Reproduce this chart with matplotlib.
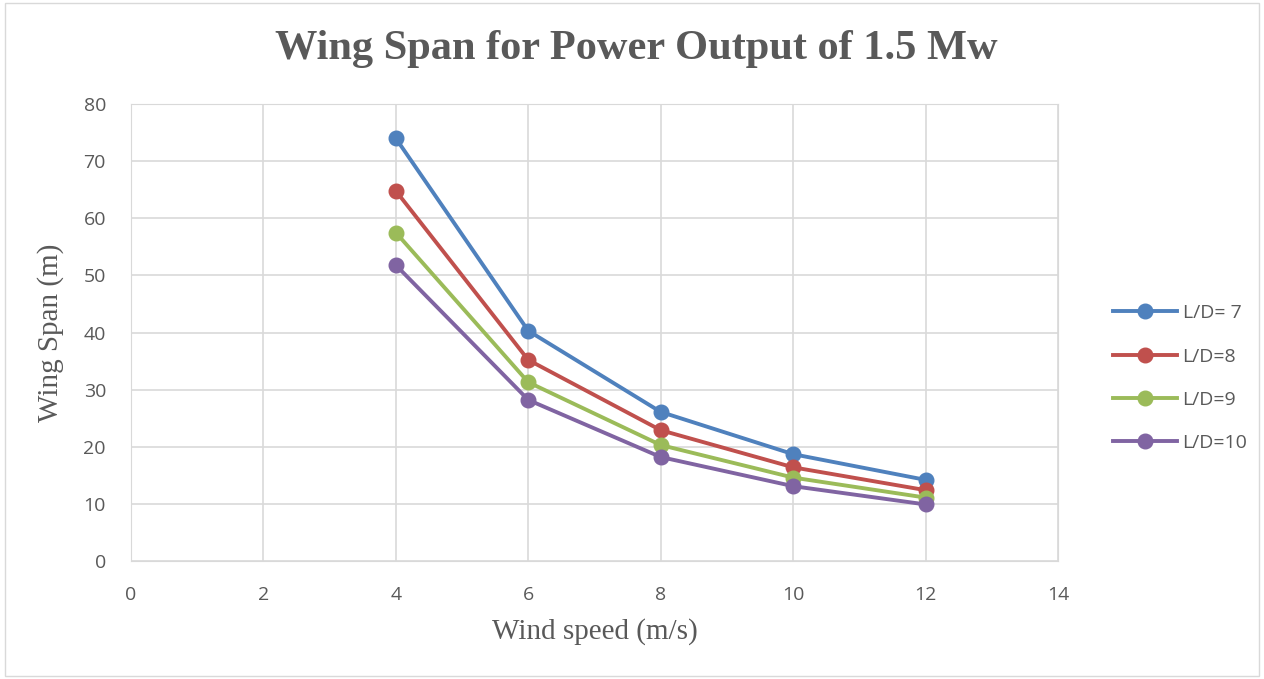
import matplotlib.pyplot as plt
from matplotlib.patches import Rectangle

wind_speed = [4, 6, 8, 10, 12]
ld7 = [74.0, 40.3, 26.1, 18.7, 14.2]
ld8 = [64.8, 35.2, 22.9, 16.4, 12.4]
ld9 = [57.5, 31.3, 20.3, 14.6, 11.1]
ld10 = [51.8, 28.2, 18.2, 13.1, 9.9]

labels = ['L/D= 7', 'L/D=8', 'L/D=9', 'L/D=10']
colors = ['#4F81BD', '#C0504D', '#9BBB59', '#8064A2']

fig = plt.figure(figsize=(12.64, 6.79), dpi=100)
fig.patches.append(Rectangle((0.004, 0.004), 0.992, 0.992, transform=fig.transFigure,
                             fill=False, edgecolor='#d9d9d9', linewidth=1))
ax = fig.add_axes([0.1036, 0.1738, 0.7334, 0.673])

for ys, lab, c in zip([ld7, ld8, ld9, ld10], labels, colors):
    ax.plot(wind_speed, ys, color=c, linewidth=2.8, marker='o', markersize=10.5, label=lab)

ax.set_xlim(0, 14)
ax.set_ylim(0, 80)
ax.set_xticks(range(0, 15, 2))
ax.set_yticks(range(0, 81, 10))
ax.grid(True, color='#d9d9d9', linewidth=1.2)
ax.set_axisbelow(True)
for s in ax.spines.values():
    s.set_color('#d9d9d9')
ax.tick_params(length=0, labelsize=14, labelcolor='#595959')
ax.tick_params(axis='x', pad=18)
ax.tick_params(axis='y', pad=18)
for t in ax.get_xticklabels() + ax.get_yticklabels():
    t.set_family('Open Sans')

ax.set_xlabel('Wind speed (m/s)', family='Liberation Serif', fontsize=21, color='#595959', labelpad=10)
ax.set_ylabel('Wing Span (m)', family='Liberation Serif', fontsize=21, color='#595959', labelpad=14)
fig.text(0.5036, 0.928, 'Wing Span for Power Output of 1.5 Mw', family='Liberation Serif',
         fontsize=30.5, fontweight='bold', color='#595959', ha='center', va='center')

leg = ax.legend(loc='center left', bbox_to_anchor=(1.04, 0.40), frameon=False,
                prop={'family': 'Open Sans', 'size': 14}, labelspacing=1.3,
                handlelength=3.3, handletextpad=0.3, labelcolor='#595959')

fig.savefig('out.png', dpi=100)
